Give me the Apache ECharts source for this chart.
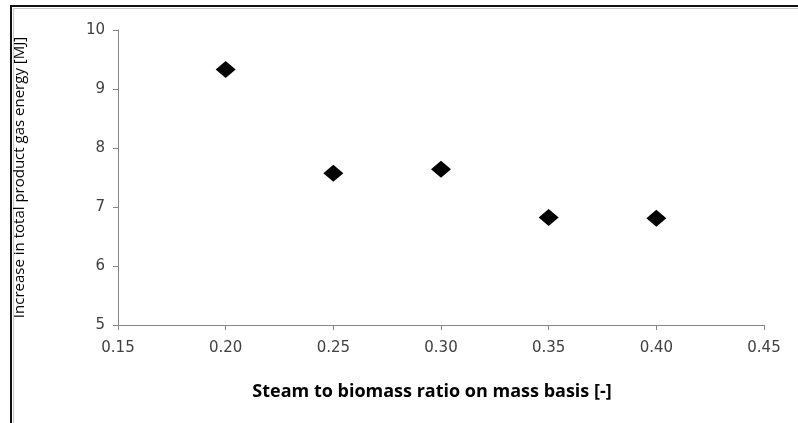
<!DOCTYPE html>
<html>
<head>
<meta charset="utf-8">
<script src="https://cdn.jsdelivr.net/npm/echarts@6/dist/echarts.min.js"></script>
<style>
  html, body { margin: 0; padding: 0; background: #ffffff; }
  #chart { width: 798px; height: 423px; }
</style>
</head>
<body>
<div id="chart"></div>
<script>
// Steam to biomass ratio (mass basis) and gain in product gas energy
const steamRatio = [0.20, 0.25, 0.30, 0.35, 0.40];
const energyGain = [9.33, 7.57, 7.64, 6.82, 6.81];

const xTitle = 'Steam to biomass ratio on mass basis [-]';
const yTitle = 'Increase in total product gas energy [MJ]';

const points = steamRatio.map((x, i) => [x, energyGain[i]]);

const chart = echarts.init(document.getElementById('chart'), null, { renderer: 'canvas' });

const axisGray = '#868686';
const labelColor = '#404040';
const fontFam = '"Open Sans", "Noto Sans", sans-serif';
const tickFont = '"DejaVu Sans", "Open Sans", sans-serif';

chart.setOption({
  animation: false,
  backgroundColor: '#ffffff',
  grid: { left: 118, right: 34, top: 30, bottom: 98 },
  xAxis: {
    type: 'value',
    min: 0.15,
    max: 0.45,
    interval: 0.05,
    name: xTitle,
    nameLocation: 'middle',
    nameGap: 58,
    nameTextStyle: {
      fontFamily: fontFam, fontSize: 18, fontWeight: 'bold', color: '#000000',
      padding: [0, 18, 0, 0]
    },
    axisLine: { show: true, lineStyle: { color: axisGray, width: 1 } },
    axisTick: { show: true, length: 5, lineStyle: { color: axisGray } },
    splitLine: { show: false },
    axisLabel: {
      margin: 16,
      fontFamily: tickFont,
      fontSize: 15,
      color: labelColor,
      formatter: v => v.toFixed(2)
    }
  },
  yAxis: {
    type: 'value',
    min: 5,
    max: 10,
    interval: 1,
    name: yTitle,
    nameLocation: 'middle',
    nameGap: 91,
    nameRotate: 90,
    nameTextStyle: { fontFamily: fontFam, fontSize: 15, color: '#000000' },
    axisLine: { show: true, lineStyle: { color: axisGray, width: 1 } },
    axisTick: { show: true, length: 5, lineStyle: { color: axisGray } },
    splitLine: { show: false },
    axisLabel: {
      margin: 13,
      fontFamily: tickFont,
      fontSize: 15,
      color: labelColor
    }
  },
  series: [{
    type: 'scatter',
    data: points,
    symbol: 'diamond',
    symbolSize: [20, 17],
    itemStyle: { color: '#000000', opacity: 1 }
  }],
  graphic: [
    // outer frame, dark edge with a light inner edge
    {
      type: 'polyline',
      shape: { points: [[11, 423], [11, 6], [798, 6]] },
      style: { stroke: '#111111', lineWidth: 2, fill: null }
    },
    {
      type: 'polyline',
      shape: { points: [[13.5, 423], [13.5, 8.5], [798, 8.5]] },
      style: { stroke: '#c8c8c8', lineWidth: 1, fill: null }
    }
  ]
});
</script>
</body>
</html>
